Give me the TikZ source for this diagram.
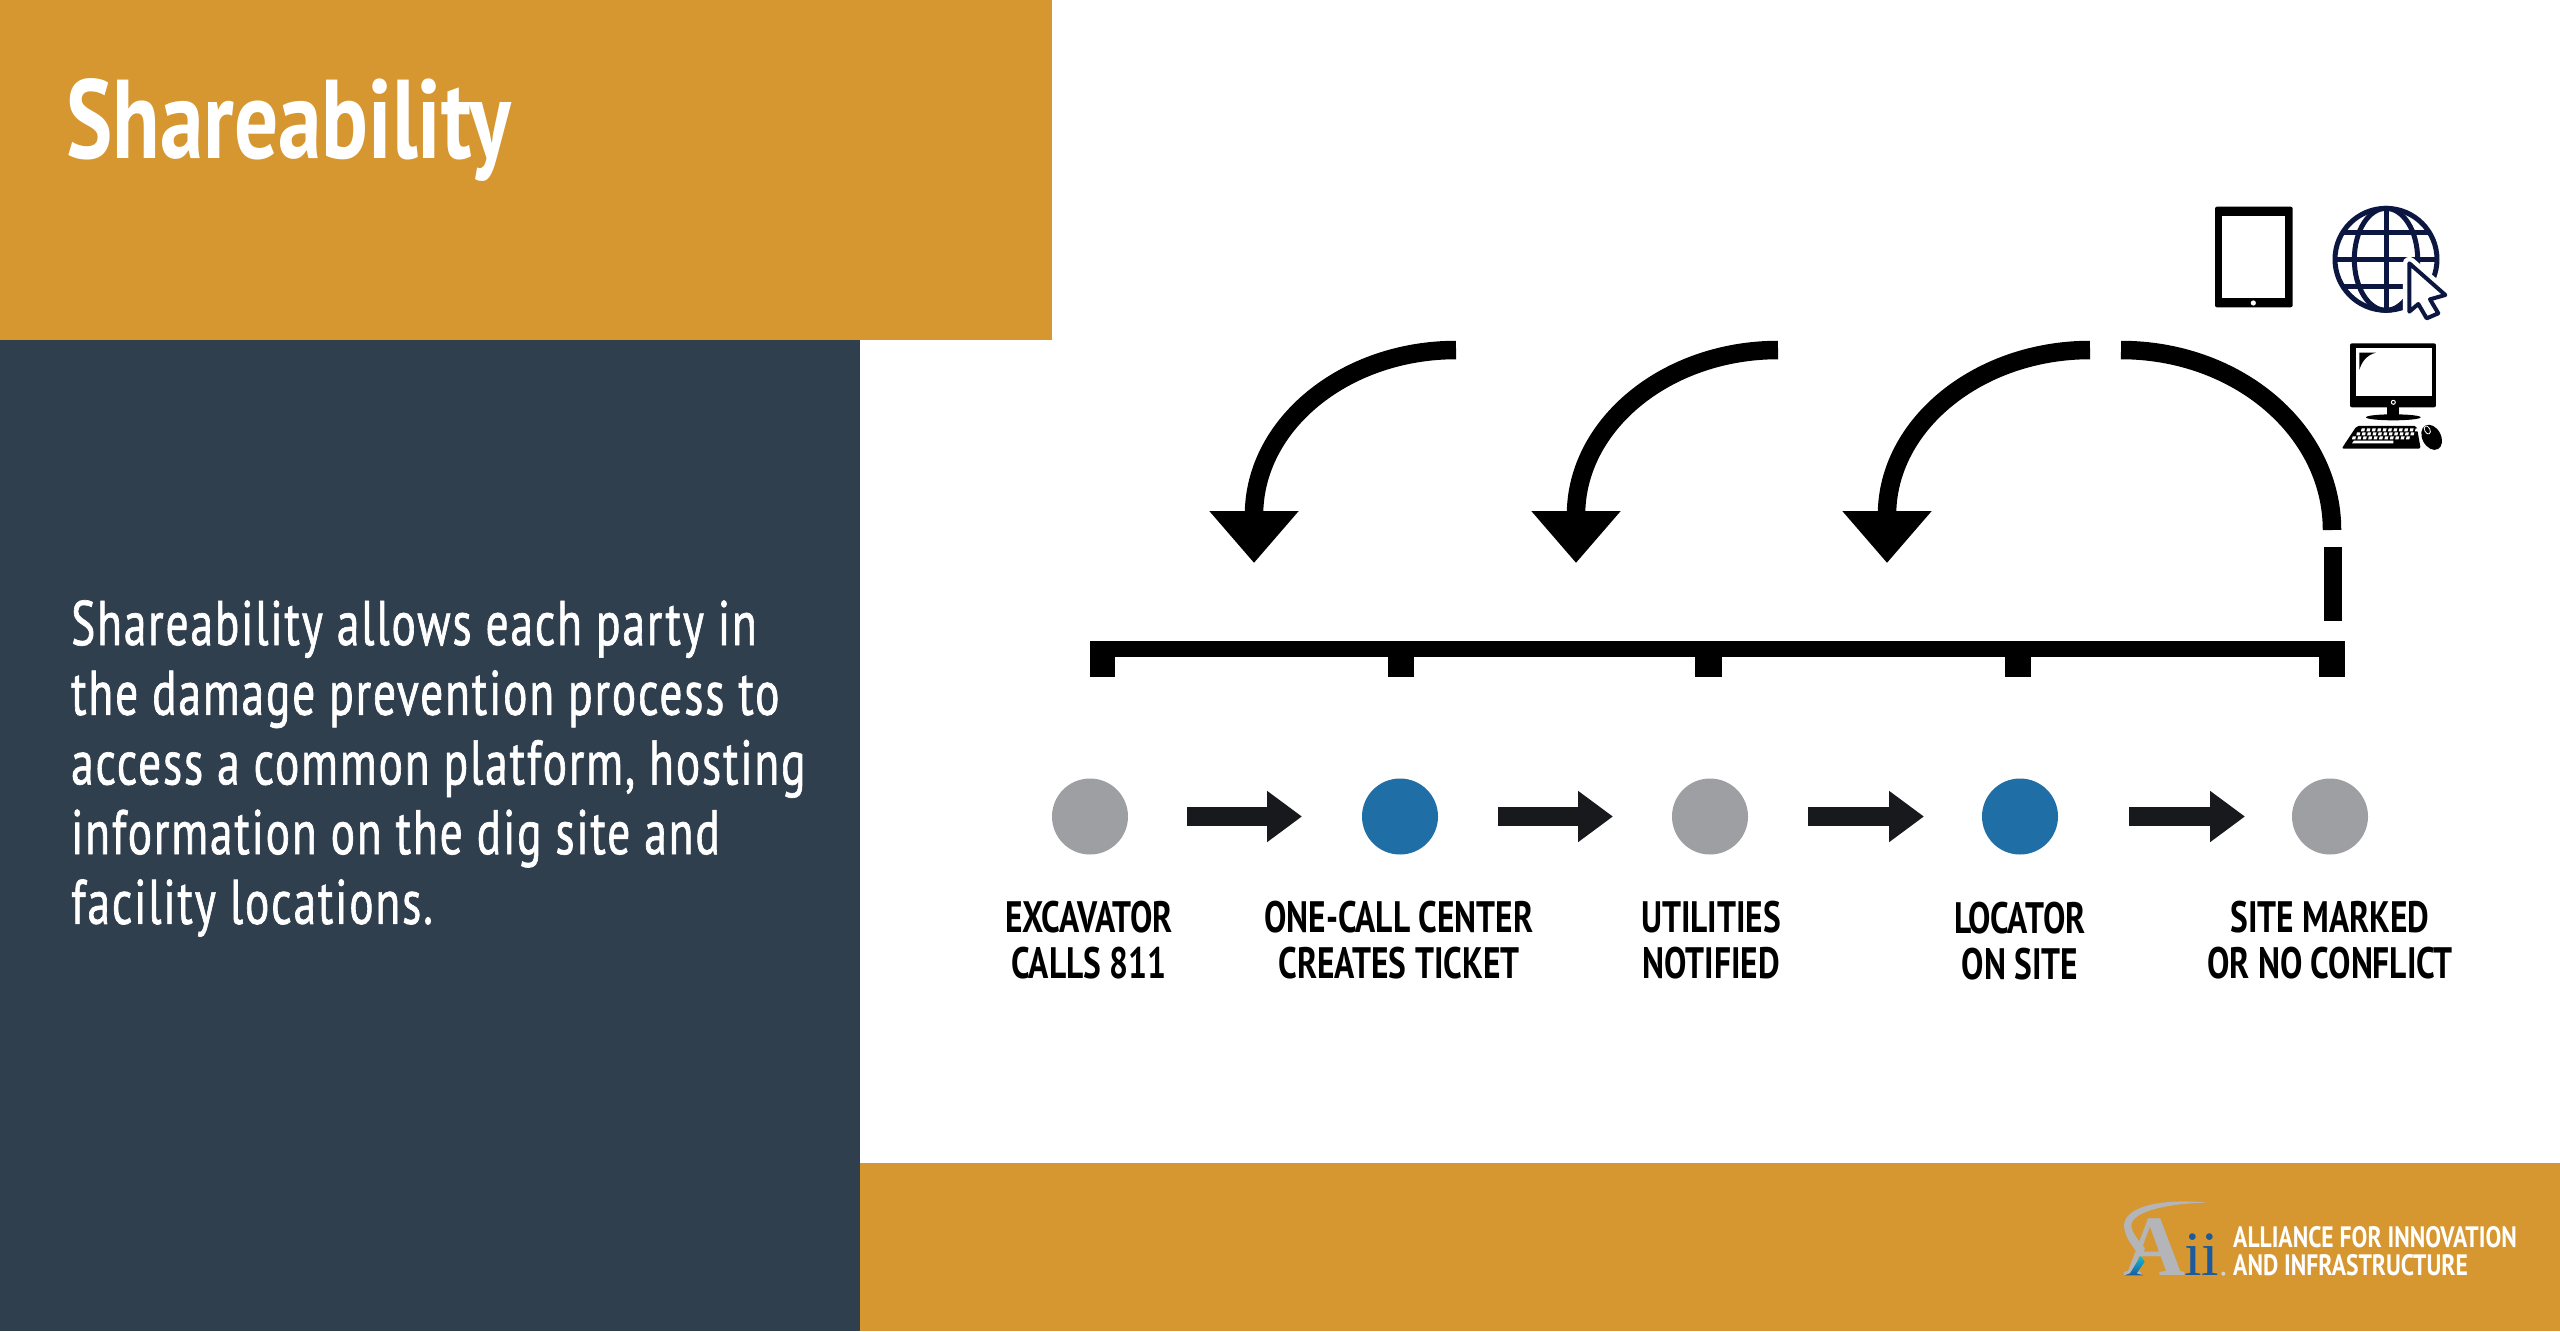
\documentclass[tikz,border=0pt]{standalone}
\usepackage{fontspec}
\usetikzlibrary{arrows.meta,calc}
\setmainfont{PT Sans}
\newfontfamily\bodyf[FakeStretch=0.72,LetterSpace=3,FakeBold=1]{PT Sans}
\newfontfamily\labf[FakeStretch=0.76]{PT Sans Bold}
\newfontfamily\logof[FakeStretch=0.80]{PT Sans Bold}
\newfontfamily\titf[FakeStretch=0.78]{PT Sans Bold}
\newfontfamily\serf{Liberation Serif}
\definecolor{gold}{HTML}{D69630}
\definecolor{navy}{HTML}{2F3F4E}
\definecolor{dotgray}{HTML}{9D9FA2}
\definecolor{dotblue}{HTML}{1F6EA5}
\definecolor{arrowk}{HTML}{18191C}
\definecolor{globek}{HTML}{0B1740}
\definecolor{logoblue}{HTML}{1C5A9C}
\definecolor{swoosh}{HTML}{B4B5B8}
\tikzset{
  x=1pt,y=-1pt,
  dot/.style={circle,minimum size=76pt,inner sep=0,draw=none},
  lab/.style={font=\labf\fontsize{44}{46}\selectfont,align=center,inner sep=0,text=black},
  flow/.style={draw=arrowk,line width=19pt,-{Triangle[length=35pt,width=49pt,fill=arrowk]}},
  curved/.style={draw=black,line width=18.5pt,-{Triangle[length=52pt,width=86pt,fill=black]}},
  plain/.style={draw=black,line width=18.5pt},
  bar/.style={fill=black,draw=none},
}
\begin{document}
\begin{tikzpicture}
\useasboundingbox (0,0) rectangle (2560,1331);
\fill[white] (0,0) rectangle (2560,1331);
\fill[gold] (0,0) rectangle (1052,340);
\fill[navy] (0,340) rectangle (860,1331);
\fill[gold] (860,1163) rectangle (2560,1331);
\node[anchor=base west,inner sep=0,text=white,font=\titf\fontsize{112}{112}\selectfont] (title) at (66,158) {Shareability};
\node[anchor=north west,inner sep=0,text=white,align=left,font=\bodyf\fontsize{63}{69.7}\selectfont] (body) at (71,600)
 {Shareability allows each party in\\the damage prevention process to\\access a common platform, hosting\\information on the dig site and\\facility locations.};

% bracket
\fill[bar] (1090,641) rectangle (2345,657);
\fill[bar] (1090,641) rectangle (1115,677);
\fill[bar] (1388,641) rectangle (1414,677);
\fill[bar] (1695,641) rectangle (1722,677);
\fill[bar] (2005,641) rectangle (2031,677);
\fill[bar] (2319,641) rectangle (2345,677);

% dots
\node[dot,fill=dotgray] (d1) at (1090,816.5) {};
\node[dot,fill=dotblue] (d2) at (1400,816.5) {};
\node[dot,fill=dotgray] (d3) at (1710,816.5) {};
\node[dot,fill=dotblue] (d4) at (2020,816.5) {};
\node[dot,fill=dotgray] (d5) at (2330,816.5) {};

% flow arrows
\coordinate (a1s) at (1187,816.5); \coordinate (a1e) at (1302,816.5);
\coordinate (a2s) at (1498,816.5); \coordinate (a2e) at (1613,816.5);
\coordinate (a3s) at (1808,816.5); \coordinate (a3e) at (1924,816.5);
\coordinate (a4s) at (2129,816.5); \coordinate (a4e) at (2245,816.5);
\draw[flow] (a1s) -- (a1e);
\draw[flow] (a2s) -- (a2e);
\draw[flow] (a3s) -- (a3e);
\draw[flow] (a4s) -- (a4e);

% labels
\node[lab] (l1) at (1089,940) {EXCAVATOR\\CALLS 811};
\node[lab] (l2) at (1399,940) {ONE-CALL CENTER\\CREATES TICKET};
\node[lab] (l3) at (1711,940) {UTILITIES\\NOTIFIED};
\node[lab] (l4) at (2020,941) {LOCATOR\\ON SITE};
\node[lab] (l5) at (2330,940) {SITE MARKED\\OR NO CONFLICT};

% curved arrows
\coordinate (c1s) at (1456,350); \coordinate (c1m) at (1254,515); \coordinate (c1e) at (1254,563);
\coordinate (c2s) at (1778,350); \coordinate (c2m) at (1576,515); \coordinate (c2e) at (1576,563);
\coordinate (c3s) at (2090,350); \coordinate (c3m) at (1887,515); \coordinate (c3e) at (1887,563);
\draw[curved] (c1s) .. controls ($(c1s)+(-111,0)$) and ($(c1m)+(0,-91)$) .. (c1m) -- (c1e);
\draw[curved] (c2s) .. controls ($(c2s)+(-111,0)$) and ($(c2m)+(0,-91)$) .. (c2m) -- (c2e);
\draw[curved] (c3s) .. controls ($(c3s)+(-111,0)$) and ($(c3m)+(0,-91)$) .. (c3m) -- (c3e);
\coordinate (c4s) at (2121,350); \coordinate (c4e) at (2332,530);
\draw[plain] (c4s) .. controls ($(c4s)+(116,0)$) and ($(c4e)+(0,-100)$) .. (c4e);
\coordinate (c5s) at (2333,547); \coordinate (c5e) at (2333,621);
\draw[plain] (c5s) -- (c5e);

% icons (coordinates of a 3x crop)
\begin{scope}[shift={(2150,180)},x=0.3333pt,y=-0.3333pt]
  % tablet
  \fill[black,rounded corners=2pt] (195,80) rectangle (428,382);
  \fill[white] (217,107) rectangle (405,355);
  \fill[white] (310,369) circle[radius=2.6pt];
  % globe
  \begin{scope}[draw=globek,line width=5pt]
    \draw (708,238) circle[x radius=153,y radius=153];
    \draw (708,238) circle[x radius=95,y radius=153];
    \draw (708,85) -- (708,391);
    \draw (575,158) -- (841,158);
    \draw (555,238) -- (861,238);
    \draw (575,320) -- (841,320);
  \end{scope}
  \fill[white,draw=white,line width=13pt,line join=round] (778,250) -- (886,345) -- (840,358) -- (865,400) -- (830,415) -- (805,372) -- (778,395) -- cycle;
  \draw[globek,fill=white,line width=4pt,line join=round] (778,250) -- (886,345) -- (840,358) -- (865,400) -- (830,415) -- (805,372) -- (778,395) -- cycle;
  % monitor
  \fill[black,rounded corners=2pt] (600,490) rectangle (858,682);
  \fill[white] (617,505) rectangle (845,648);
  \fill[black] (628,518) -- (678,518) .. controls (650,525) and (635,545) .. (628,570) -- cycle;
  \fill[black] (712,680) rectangle (748,708);
  \fill[black] (730,712) circle[x radius=82,y radius=9];
  \draw[white,line width=1pt] (730,667) circle[x radius=6,y radius=6];
  % keyboard
  \fill[black,rounded corners=2pt] (620,738) -- (800,738) -- (812,806) -- (575,806) -- cycle;
  \foreach \j/\l in {0/632,1/618,2/605}{
    \foreach \k in {0,...,10}{
      \fill[white] ({\l+\k*15+1.2*\k},{745+12*\j}) ++(3,0) -- ++(10,0) -- ++(-2,9) -- ++(-10,0) -- cycle;
    }
  }
  \fill[white] (612,782) -- (730,782) -- (730,790) -- (606,790) -- cycle;
  \fill[black] (845,772) ellipse[x radius=28,y radius=40,rotate=28];
  \draw[white,line width=0.8pt] (832,750) ellipse[x radius=8,y radius=13,rotate=28];
\end{scope}

% logo
\begin{scope}[shift={(2100,1170)},x=0.3333pt,y=-0.3333pt]
  \fill[swoosh] (320,98) .. controls (200,85) and (75,105) .. (72,165) .. controls (72,200) and (100,235) .. (125,262) -- (135,235) .. controls (110,205) and (90,180) .. (95,160) .. controls (105,125) and (200,100) .. (320,98) -- cycle;
  \node[anchor=base,inner sep=0,text=swoosh,font=\serf\bfseries\fontsize{86}{86}\selectfont] (logoA) at (163,315) {A};
  \shade[top color=logoblue!40!cyan,bottom color=logoblue] (122,258) -- (90,310) -- (75,316) -- (130,316) -- (110,310) -- (134,275) -- cycle;
  \node[anchor=base west,inner sep=0,text=logoblue,font=\serf\fontsize{63}{63}\selectfont] (logoi) at (252,315) {ii};
  \fill[swoosh!60!white] (370,311) circle[radius=2pt];
\end{scope}
\node[anchor=base west,inner sep=0,text=white,font=\logof\fontsize{29.5}{29.5}\selectfont] (lt1) at (2233,1247) {ALLIANCE FOR INNOVATION};
\node[anchor=base west,inner sep=0,text=white,font=\logof\fontsize{29.5}{29.5}\selectfont] (lt2) at (2233,1275) {AND INFRASTRUCTURE};
\end{tikzpicture}
\end{document}
